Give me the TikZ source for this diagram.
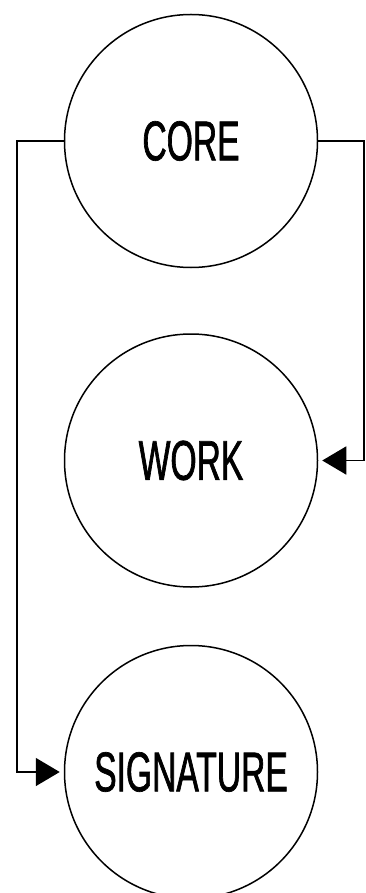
\documentclass[tikz,border=0pt]{standalone}
\usepackage{fontspec}
\usepackage{tikz}
\usetikzlibrary{arrows.meta,positioning}
\newfontfamily\stagefont[FakeStretch=0.6,FakeBold=1.2]{Liberation Sans}

\begin{document}
\begin{tikzpicture}[
  x=1pt, y=-1pt,
  stage/.style={draw, circle, line width=1.5pt, minimum size=253pt, inner sep=0pt,
    font=\stagefont\fontsize{56}{60}\selectfont},
  arrow/.style={-{Triangle[length=24pt,width=28pt]}, line width=1.6pt, shorten >=4pt}
]
\useasboundingbox (0,0) rectangle (366,893);

\node[stage] (core) at (191,141) {CORE};
\node[stage, below=65pt of core] (work) {WORK};
\node[stage, below=57pt of work] (signature) {SIGNATURE};

\draw[arrow] (core.east) -- ++(46,0) |- (work.east);
\draw[arrow] (core.west) -- ++(-47,0) |- (signature.west);
\end{tikzpicture}
\end{document}
